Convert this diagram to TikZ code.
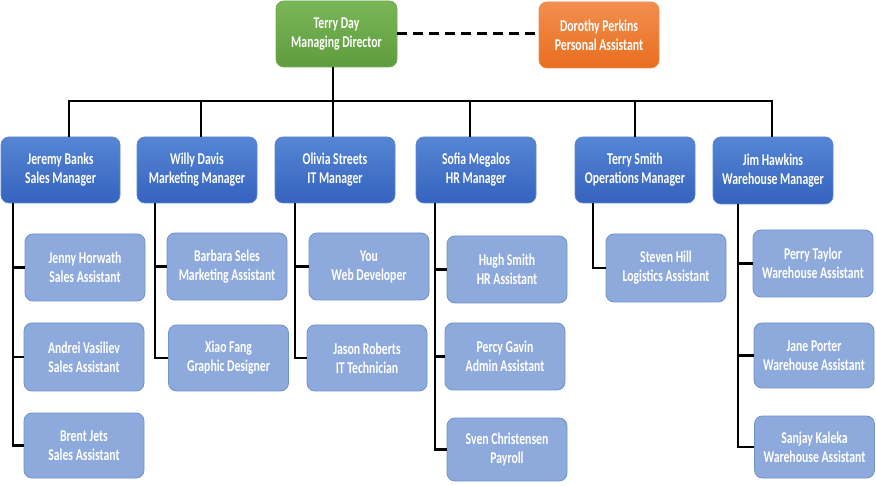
\documentclass[tikz,border=0pt]{standalone}
\usepackage{fontspec}
\newfontfamily\lblfont{Carlito}[FakeStretch=0.71]
\definecolor{mgrtop}{RGB}{86,134,212}
\definecolor{mgrbot}{RGB}{52,98,190}
\definecolor{mgredge}{RGB}{92,136,210}
\definecolor{astfill}{RGB}{142,170,220}
\definecolor{astedge}{RGB}{110,146,204}
\definecolor{grtop}{RGB}{122,182,88}
\definecolor{grbot}{RGB}{94,156,62}
\definecolor{gredge}{RGB}{112,170,80}
\definecolor{ortop}{RGB}{242,142,80}
\definecolor{orbot}{RGB}{232,110,30}
\definecolor{oredge}{RGB}{240,140,80}
\begin{document}
\begin{tikzpicture}[x=1pt,y=-1pt,
  box/.style={rectangle, rounded corners=8pt, minimum width=120pt, minimum height=67pt,
    inner sep=0pt, align=center, text=white, line width=0.8pt,
    font=\lblfont\bfseries\fontsize{16.5}{19}\selectfont},
  mgr/.style={box, top color=mgrtop, bottom color=mgrbot, draw=mgredge, minimum height=66pt},
  ast/.style={box, fill=astfill, draw=astedge},
  dir/.style={box, top color=grtop, bottom color=grbot, draw=gredge},
  pa/.style={box, top color=ortop, bottom color=orbot, draw=oredge, minimum height=66pt},
  conn/.style={draw=black, line width=2.6pt, line join=miter},
  dashconn/.style={draw=black, line width=3pt, dash pattern=on 10pt off 6pt}]
\useasboundingbox (0,0) rectangle (876,486);

% top level
\node[dir, minimum width=121pt, minimum height=66pt] (td) at (336.5,34) {Terry Day\\Managing Director};
\node[pa] (dp) at (599,35) {Dorothy Perkins\\Personal Assistant};

% managers
\node[mgr, minimum width=119pt] (jb) at (60.5,170) {Jeremy Banks\\Sales Manager};
\node[mgr] (wd) at (197,170) {Willy Davis\\Marketing Manager};
\node[mgr] (os) at (335,170) {Olivia Streets\\IT Manager};
\node[mgr] (sm) at (476,170) {Sofia Megalos\\HR Manager};
\node[mgr] (ts) at (635,170) {Terry Smith\\Operations Manager};
\node[mgr, minimum height=67pt] (jh) at (773,170.5) {Jim Hawkins\\Warehouse Manager};

% assistants
\node[ast] (a1) at (85,267.5) {Jenny Horwath\\Sales Assistant};
\node[ast, minimum height=68pt] (a2) at (84,357) {Andrei Vasiliev\\Sales Assistant};
\node[ast, minimum height=65pt] (a3) at (84,445.5) {Brent Jets\\Sales Assistant};
\node[ast] (b1) at (227,266.5) {Barbara Seles\\Marketing Assistant};
\node[ast, minimum height=66pt] (b2) at (228.5,358) {Xiao Fang\\Graphic Designer};
\node[ast] (c1) at (369,266.5) {You\\Web Developer};
\node[ast, minimum height=66pt] (c2) at (367,358) {Jason Roberts\\IT Technician};
\node[ast] (e1) at (507,269.5) {Hugh Smith\\HR Assistant};
\node[ast] (e2) at (505,356.5) {Percy Gavin\\Admin Assistant};
\node[ast, minimum height=63pt] (e3) at (507,449.5) {Sven Christensen\\Payroll};
\node[ast, minimum height=68pt] (f1) at (666,268) {Steven Hill\\Logistics Assistant};
\node[ast] (g1) at (813,263.5) {Perry Taylor\\Warehouse Assistant};
\node[ast, minimum height=65pt] (g2) at (814,355.5) {Jane Porter\\Warehouse Assistant};
\node[ast, minimum height=62pt] (g3) at (814.5,447) {Sanjay Kaleka\\Warehouse Assistant};

% dashed link
\draw[dashconn] (td.east) -- (dp.west |- td.east);

% drop points on the bar
\coordinate (d1) at (69,101);
\coordinate (d2) at (201,101);
\coordinate (d3) at (333,101);
\coordinate (d4) at (470,101);
\coordinate (d5) at (635,101);
\coordinate (d6) at (772,101);
\draw[conn] ([xshift=-1.3pt]d1) -- ([xshift=1.3pt]d6);
\draw[conn] (d3 |- td.south) -- (d3);
\draw[conn] (d1) -- (d1 |- jb.north);
\draw[conn] (d2) -- (d2 |- wd.north);
\draw[conn] (d3) -- (d3 |- os.north);
\draw[conn] (d4) -- (d4 |- sm.north);
\draw[conn] (d5) -- (d5 |- ts.north);
\draw[conn] (d6) -- (d6 |- jh.north);

% spines under managers
\coordinate (s1) at (13,203);
\coordinate (s2) at (155,203);
\coordinate (s3) at (295,203);
\coordinate (s4) at (435,203);
\coordinate (s5) at (593,203);
\coordinate (s6) at (738,204);
\draw[conn] (s1) |- (a1.west);
\draw[conn] (s1) |- (a2.west);
\draw[conn] (s1) |- (a3.west);
\draw[conn] (s2) |- (b1.west);
\draw[conn] (s2) |- (b2.west);
\draw[conn] (s3) |- (c1.west);
\draw[conn] (s3) |- (c2.west);
\draw[conn] (s4) |- (e1.west);
\draw[conn] (s4) |- (e2.west);
\draw[conn] (s4) |- (e3.west);
\draw[conn] (s5) |- (f1.west);
\draw[conn] (s6) |- (g1.west);
\draw[conn] (s6) |- (g2.west);
\draw[conn] (s6) |- (g3.west);
\end{tikzpicture}
\end{document}
